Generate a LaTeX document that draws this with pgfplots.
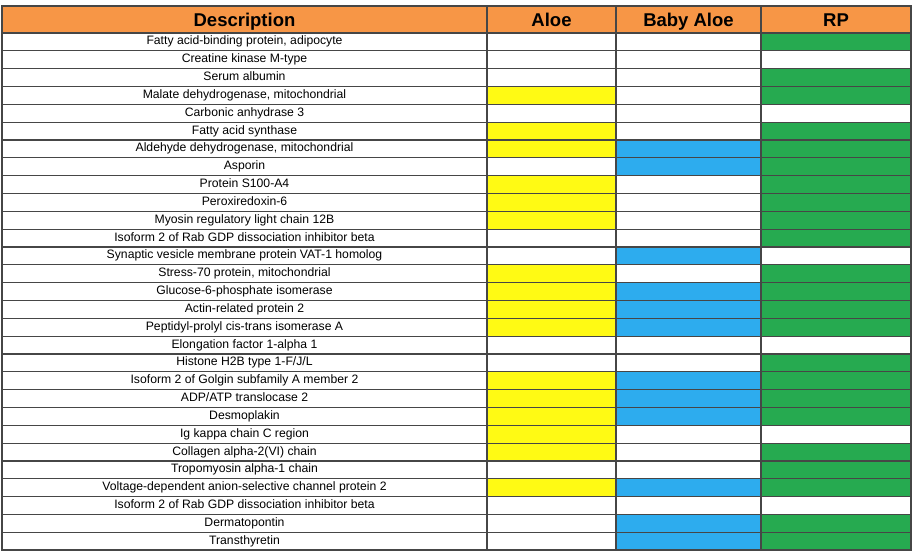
\documentclass[border=0pt]{standalone}
\usepackage{pgfplots}
\usepackage{pgfplotstable}
\usepackage{fontspec}
\setmainfont{Liberation Sans}
\pgfplotsset{compat=1.18}
\definecolor{hdr}{RGB}{247,150,70}
\definecolor{aloeY}{RGB}{255,250,20}
\definecolor{babyB}{RGB}{45,172,238}
\definecolor{rpG}{RGB}{38,170,80}
\definecolor{gridc}{RGB}{70,70,70}
\pgfplotstableread[col sep=semicolon]{
y;aloe;baby;rp;name
508.08;0;0;1;Fatty acid-binding protein, adipocyte
490.25;0;0;0;Creatine kinase M-type
472.42;0;0;1;Serum albumin
454.58;1;0;1;Malate dehydrogenase, mitochondrial
436.75;0;0;0;Carbonic anhydrase 3
418.92;1;0;1;Fatty acid synthase
401.08;1;1;1;Aldehyde dehydrogenase, mitochondrial
383.25;0;1;1;Asporin
365.42;1;0;1;Protein S100-A4
347.58;1;0;1;Peroxiredoxin-6
329.75;1;0;1;Myosin regulatory light chain 12B
311.92;0;0;1;Isoform 2 of Rab GDP dissociation inhibitor beta
294.08;0;1;0;Synaptic vesicle membrane protein VAT-1 homolog
276.25;1;0;1;Stress-70 protein, mitochondrial
258.42;1;1;1;Glucose-6-phosphate isomerase
240.58;1;1;1;Actin-related protein 2
222.75;1;1;1;Peptidyl-prolyl cis-trans isomerase A
204.92;0;0;0;Elongation factor 1-alpha 1
187.08;0;0;1;Histone H2B type 1-F/J/L
169.25;1;1;1;Isoform 2 of Golgin subfamily A member 2
151.42;1;1;1;ADP/ATP translocase 2
133.58;1;1;1;Desmoplakin
115.75;1;0;0;Ig kappa chain C region
97.92;1;0;1;Collagen alpha-2(VI) chain
80.08;0;0;1;Tropomyosin alpha-1 chain
62.25;1;1;1;Voltage-dependent anion-selective channel protein 2
44.42;0;0;0;Isoform 2 of Rab GDP dissociation inhibitor beta
26.58;0;1;1;Dermatopontin
8.75;0;1;1;Transthyretin
}\data
\begin{document}
\begin{tikzpicture}
\begin{axis}[
  scale only axis, width=909pt, height=544pt,
  xmin=0, xmax=909, ymin=0, ymax=544,
  clip=false, axis on top,
  axis line style={gridc, line width=1.2pt},
  xtick={242.5,549.5,686.5,834},
  xticklabels={Description,Aloe,Baby Aloe,RP},
  xticklabel pos=right,
  xticklabel style={anchor=center, yshift=-13.5pt, text height=13.2pt, text depth=0pt, font=\bfseries\fontsize{18.5}{20}\selectfont},
  ytick=data,
  yticklabels from table={\data}{name},
  yticklabel style={anchor=center, xshift=242.5pt, yshift=1.3pt, text height=8.7pt, text depth=0pt, font=\fontsize{12.2}{14}\selectfont},
  minor xtick={485,614,759},
  minor ytick={17.67,35.5,53.33,71.17,89,106.83,124.67,142.5,160.33,178.17,196,213.83,231.67,249.5,267.33,285.17,303,320.83,338.67,356.5,374.33,392.17,410,427.83,445.67,463.5,481.33,499.17,517},
  minor grid style={gridc, line width=1.2pt},
  xminorgrids=true, yminorgrids=true,
  major tick length=0pt, minor tick length=0pt,
  tick style={draw=none},
]
\addplot[xbar, bar shift=0pt, bar width=17.8333, fill=white, draw=none] table[x expr=909, y=y] {\data};
\addplot[xbar, bar shift=0pt, bar width=17.8333, fill=rpG, draw=none, restrict expr to domain={\thisrow{rp}}{0.5:1.5}] table[x expr=909, y=y] {\data};
\addplot[xbar, bar shift=0pt, bar width=17.8333, fill=white, draw=none] table[x expr=759, y=y] {\data};
\addplot[xbar, bar shift=0pt, bar width=17.8333, fill=babyB, draw=none, restrict expr to domain={\thisrow{baby}}{0.5:1.5}] table[x expr=759, y=y] {\data};
\addplot[xbar, bar shift=0pt, bar width=17.8333, fill=white, draw=none] table[x expr=614, y=y] {\data};
\addplot[xbar, bar shift=0pt, bar width=17.8333, fill=aloeY, draw=none, restrict expr to domain={\thisrow{aloe}}{0.5:1.5}] table[x expr=614, y=y] {\data};
\addplot[xbar, bar shift=0pt, bar width=17.8333, fill=white, draw=none] table[x expr=485, y=y] {\data};
\addplot[xbar, bar shift=0pt, bar width=27, fill=hdr, draw=none] coordinates {(909,530.5)};
\path (axis cs:-2,-6) rectangle (axis cs:910,550);
\end{axis}
\end{tikzpicture}
\end{document}
